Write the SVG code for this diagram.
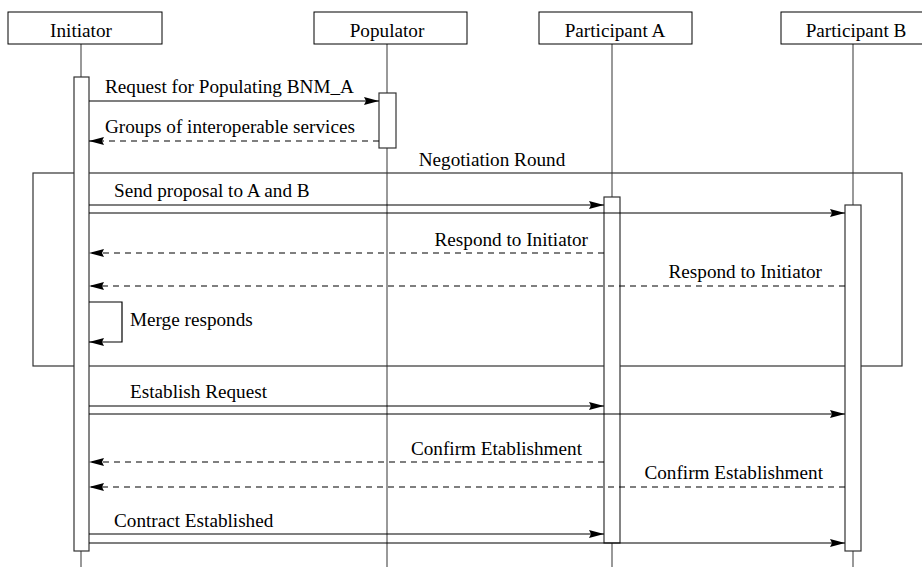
<svg xmlns="http://www.w3.org/2000/svg" width="922" height="568" viewBox="0 0 922 568">
<defs>
<style>
text{font-family:"Liberation Serif","Times New Roman",serif;font-size:19.2px;fill:#000}
.head{fill:#fff;stroke:#000;stroke-width:1}
.life{stroke:#555;stroke-width:1.2;fill:none}
.act{fill:#fff;stroke:#333;stroke-width:1.2}
.msg{stroke:#000;stroke-width:1.2;fill:none;marker-end:url(#ah)}
.ret{stroke:#000;stroke-width:1.2;fill:none;stroke-dasharray:6,5;marker-end:url(#ah)}
.frame{fill:none;stroke:#333;stroke-width:1.2}
</style>
<marker id="ah" markerWidth="15" markerHeight="8" refX="15" refY="4" orient="auto" markerUnits="userSpaceOnUse">
<path d="M0,0 L15,4 L0,8 L2,4 z" fill="#000"/>
</marker>
</defs>
<rect width="922" height="568" fill="#fff"/>
<g id="lifelines">
<line class="life" x1="81" y1="44" x2="81" y2="567"/>
<line class="life" x1="387" y1="44" x2="387" y2="567"/>
<line class="life" x1="612" y1="44" x2="612" y2="567"/>
<line class="life" x1="853" y1="44" x2="853" y2="567"/>
</g>
<g id="frame">
<rect class="frame" x="33" y="173" width="869" height="193"/>
<text x="492" y="166" text-anchor="middle">Negotiation Round</text>
</g>
<g id="initiator">
<rect class="head" x="8" y="12" width="154" height="32"/>
<text x="81" y="37" text-anchor="middle">Initiator</text>
<rect class="act" x="74" y="77" width="15" height="474"/>
</g>
<g id="populator">
<rect class="head" x="314" y="12" width="153" height="32"/>
<text x="387" y="37" text-anchor="middle">Populator</text>
<rect class="act" x="379" y="93" width="17" height="55"/>
</g>
<g id="participantA">
<rect class="head" x="539" y="12" width="153" height="32"/>
<text x="615" y="37" text-anchor="middle">Participant A</text>
<rect class="act" x="604" y="197" width="16" height="346"/>
</g>
<g id="participantB">
<rect class="head" x="781" y="12" width="145" height="32"/>
<text x="856" y="37" text-anchor="middle">Participant B</text>
<rect class="act" x="845" y="205" width="16" height="346"/>
</g>
<g id="connectors">
<line class="msg" x1="89" y1="101" x2="379" y2="101"/>
<text x="105" y="93">Request for Populating BNM_A</text>
<line class="ret" x1="379" y1="141" x2="89" y2="141"/>
<text x="105" y="133">Groups of interoperable services</text>
<line class="msg" x1="89" y1="205" x2="604" y2="205"/>
<line class="msg" x1="89" y1="213" x2="845" y2="213"/>
<text x="114" y="197">Send proposal to A and B</text>
<line class="ret" x1="604" y1="253" x2="89" y2="253"/>
<text x="588" y="246" text-anchor="end">Respond to Initiator</text>
<line class="ret" x1="845" y1="286" x2="89" y2="286"/>
<text x="822" y="278" text-anchor="end">Respond to Initiator</text>
<polyline class="msg" points="89,302 122,302 122,342 89,342"/>
<text x="130" y="326">Merge responds</text>
<line class="msg" x1="89" y1="406" x2="604" y2="406"/>
<line class="msg" x1="89" y1="414" x2="845" y2="414"/>
<text x="130" y="398">Establish Request</text>
<line class="ret" x1="604" y1="462" x2="89" y2="462"/>
<text x="582" y="455" text-anchor="end">Confirm Etablishment</text>
<line class="ret" x1="845" y1="487" x2="89" y2="487"/>
<text x="823" y="479" text-anchor="end">Confirm Establishment</text>
<line class="msg" x1="89" y1="534" x2="604" y2="534"/>
<line class="msg" x1="89" y1="543" x2="845" y2="543"/>
<text x="114" y="527">Contract Established</text>
</g>
</svg>
